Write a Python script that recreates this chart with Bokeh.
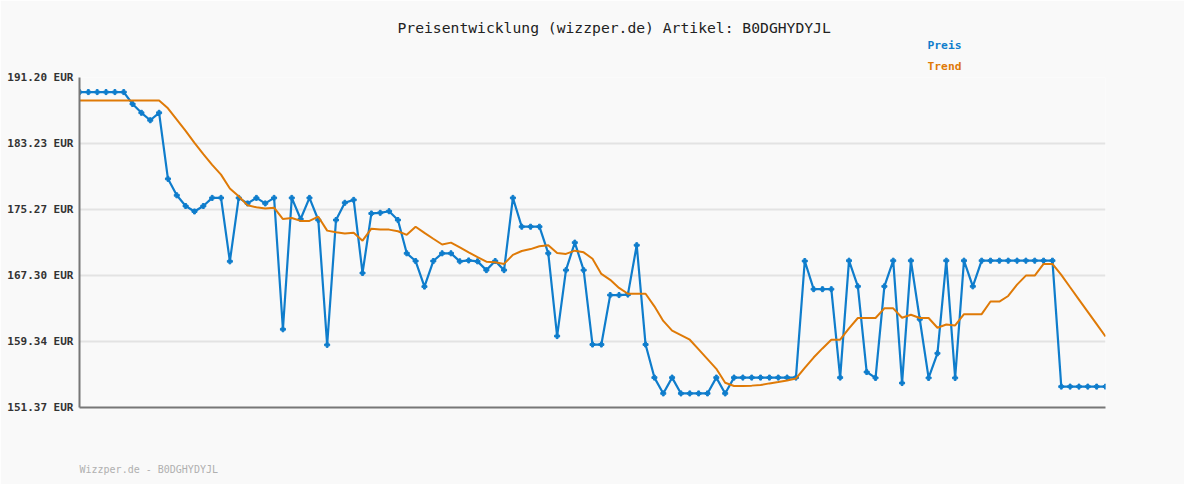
from bokeh.plotting import figure
from bokeh.models import Range1d, FixedTicker, PrintfTickFormatter, Title
from bokeh.embed import file_html
from bokeh.resources import INLINE

# ---- data ----
preis = [
    189.44, 189.44, 189.44, 189.44, 189.44, 189.44,
    188.00, 186.94, 186.04, 186.94,
    178.97, 176.98, 175.69, 175.03, 175.69, 176.67, 176.67, 169.01, 176.67, 176.00,
    176.67, 176.00, 176.67, 160.81, 176.67,
    174.12, 176.67, 174.00, 158.93, 174.00, 176.08, 176.43, 167.60, 174.79, 174.87,
    175.06, 174.00, 169.98, 169.05, 165.96, 169.05, 169.98, 169.98, 169.01, 169.12,
    169.01, 167.95, 169.05, 167.95, 176.67, 173.19, 173.19, 173.19, 169.98, 159.99,
    167.95,
    171.27, 167.95, 158.97, 158.97, 164.94, 164.94, 165.00, 170.96, 158.97, 154.98,
    153.07, 154.98, 153.07, 153.07, 153.07, 153.07, 154.98, 153.07,
    154.98, 154.98, 154.98, 154.98, 154.98, 154.98, 154.98, 154.98,
    169.05, 165.65, 165.65, 165.65, 154.98, 169.09, 165.99, 155.65, 154.94, 165.99,
    169.09, 154.32, 169.09, 162.02, 154.94, 157.91, 169.09, 154.94, 169.09, 165.99,
    169.09,
    169.09, 169.09, 169.09, 169.09, 169.09, 169.09, 169.09, 169.09,
    153.89, 153.89, 153.89, 153.89, 153.89, 153.89,
]
trend = [
    188.42, 188.42, 188.42, 188.42, 188.42, 188.42, 188.42, 188.42, 188.42, 188.42,
    187.48, 186.12, 184.75, 183.31, 181.94, 180.65, 179.48, 177.80, 176.87, 175.77,
    175.53, 175.38, 175.49, 174.12, 174.24,
    173.89, 173.89, 174.40, 172.72, 172.53, 172.37, 172.45, 171.51, 172.95, 172.84,
    172.84, 172.64, 172.21, 173.19, 172.45, 171.74, 171.04, 171.27, 170.69, 170.10,
    169.52, 168.97, 168.89, 168.70, 169.79, 170.26, 170.49, 170.84, 170.96, 170.02,
    169.91,
    170.30, 170.10, 169.32, 167.49, 166.78, 165.80, 165.10, 165.10, 165.10, 163.58,
    161.82, 160.65, 160.10, 159.55, 158.38, 157.21, 156.04, 154.36,
    153.97, 153.97, 154.01, 154.08, 154.28, 154.44, 154.63, 154.87,
    156.15, 157.40, 158.50, 159.55, 159.55, 160.92, 162.17, 162.17, 162.17, 163.34,
    163.34, 162.21, 162.56, 162.17, 162.17, 161.00, 161.39, 161.27, 162.64, 162.64,
    162.64,
    164.16, 164.16, 164.83, 166.20, 167.29, 167.29, 168.70, 168.70,
    167.37, 165.88, 164.40, 162.91, 161.43, 159.94,
]
y_ticks = [151.37, 159.34, 167.30, 175.27, 183.23, 191.20]
title_text = "Preisentwicklung (wizzper.de) Artikel: B0DGHYDYJL"
footer_text = "Wizzper.de - B0DGHYDYJL"
legend_labels = ["Preis", "Trend"]

x = list(range(len(preis)))

BLUE = "#0f7dcc"
ORANGE = "#df7a07"
BG = "#f9f9f9"
MONO = "DejaVu Sans Mono"

p = figure(width=1184, height=484, output_backend="svg", toolbar_location=None,
           x_range=Range1d(0, len(preis) - 1), y_range=Range1d(y_ticks[0], y_ticks[-1]),
           min_border_left=79, min_border_right=79, min_border_top=77, min_border_bottom=77,
           background_fill_color=BG, border_fill_color=BG, outline_line_color=None)

# x axis: only the base line
p.xaxis.ticker = FixedTicker(ticks=[])
p.xaxis.major_tick_line_color = None
p.xaxis.minor_tick_line_color = None
p.xaxis.axis_line_color = "#777777"
p.xaxis.axis_line_width = 2
p.xgrid.grid_line_color = None

p.yaxis.ticker = FixedTicker(ticks=y_ticks)
p.yaxis.formatter = PrintfTickFormatter(format="%.2f EUR")
p.yaxis.major_label_text_font = MONO
p.yaxis.major_label_text_font_style = "bold"
p.yaxis.major_label_text_font_size = "11px"
p.yaxis.major_label_text_color = "#333333"
p.yaxis.major_tick_line_color = None
p.yaxis.minor_tick_line_color = None
p.yaxis.major_label_standoff = 0
p.yaxis.axis_line_color = "#777777"
p.yaxis.axis_line_width = 2
p.ygrid.ticker = FixedTicker(ticks=y_ticks)
p.ygrid.grid_line_color = "#e3e3e3"
p.ygrid.grid_line_width = 2

# series
p.line(x, preis, line_color=BLUE, line_width=2.2)
p.scatter(x, preis, marker="plus", size=5, color=BLUE)
p.line(x, trend, line_color=ORANGE, line_width=2)

# titles / legend texts (stacked outward from the frame)
p.add_layout(Title(text=legend_labels[1], align="left", offset=848, standoff=10,
                   text_font=MONO, text_font_style="bold", text_font_size="11.3px",
                   text_color=ORANGE), "above")
p.add_layout(Title(text=legend_labels[0], align="left", offset=848, standoff=2,
                   text_font=MONO, text_font_style="bold", text_font_size="11.3px",
                   text_color=BLUE), "above")
p.add_layout(Title(text=title_text, align="left", offset=318, standoff=0,
                   text_font=MONO, text_font_style="normal", text_font_size="14.7px",
                   text_color="#222222"), "above")
p.add_layout(Title(text=footer_text, align="left", offset=0, standoff=4,
                   padding=dict(top=52, bottom=0, left=0, right=0),
                   text_font=MONO, text_font_style="normal", text_font_size="10px",
                   text_color="#b0b0b0"), "below")

open("out.html", "w").write(file_html(p, INLINE))
